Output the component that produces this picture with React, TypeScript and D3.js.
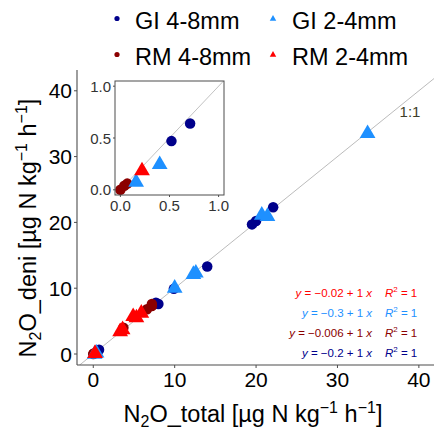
import React from "react";
import * as d3 from "d3";

// Paired measurements: total N2O production (x) vs. denitrification-derived N2O (y)
const giLargeX = [0.52, 0.71, 7.7, 8.0, 9.9, 14.0, 19.5, 20.0, 22.1];
const giLargeY = [0.47, 0.64, 7.8, 7.6, 9.9, 13.3, 19.7, 20.2, 22.3];
const giSmallX = [0.16, 0.4, 10.0, 12.3, 12.6, 20.7, 21.4, 33.7];
const giSmallY = [0.08, 0.25, 10.1, 12.2, 12.4, 21.2, 21.0, 33.6];
const rmLargeX = [0.0, 0.04, 0.07, 3.7, 6.6, 7.2, 7.2];
const rmLargeY = [0.0, 0.04, 0.06, 4.0, 6.8, 7.3, 7.6];
const rmSmallX = [0.22, 3.3, 3.6, 4.9, 5.3, 5.9];
const rmSmallY = [0.19, 3.5, 3.8, 5.8, 5.6, 6.3];

const groupNames = ["GI 4-8mm", "GI 2-4mm", "RM 4-8mm", "RM 2-4mm"];
const groupColors = ["#00008B", "#1E90FF", "#8B0000", "#FF0000"];
const groupShapes = ["circle", "triangle", "circle", "triangle"];

// Fitted lines (y = a + b x) per group, listed in drawing order of the labels
const fitGroups = [3, 1, 2, 0];
const fitIntercepts = ["−0.02", "−0.3", "−0.006", "−0.2"];
const fitSlopes = ["1", "1", "1", "1"];
const fitR2 = ["1", "1", "1", "1"];

const mainTicks = [0, 10, 20, 30, 40];
const insetTicks = [0, 0.5, 1];

const FONT = "'Liberation Sans', Arial, sans-serif";

type Pt = { x: number; y: number };
const zip = (xs: number[], ys: number[]): Pt[] => xs.map((x, i) => ({ x, y: ys[i] }));
const groups: Pt[][] = [
  zip(giLargeX, giLargeY),
  zip(giSmallX, giSmallY),
  zip(rmLargeX, rmLargeY),
  zip(rmSmallX, rmSmallY),
];

const triPath = (cx: number, cy: number, w: number) => {
  const h = w * 0.866;
  return `M${cx},${cy - h * 0.62} L${cx + w / 2},${cy + h * 0.38} L${cx - w / 2},${cy + h * 0.38} Z`;
};

function Marker({ shape, cx, cy, color, size }: { shape: string; cx: number; cy: number; color: string; size: number }) {
  if (shape === "circle") return <circle cx={cx} cy={cy} r={size / 2} fill={color} />;
  return <path d={triPath(cx, cy, size * 1.5)} fill={color} />;
}

export default function App() {
  const W = 434;
  const H = 430;

  // Main panel
  const x = d3.scaleLinear().domain([-2, 41]).range([77, 427]);
  const y = d3.scaleLinear().domain([-1.67, 42.4]).range([365, 75]);

  // Inset panel (zoom on 0..1)
  const ix = d3.scaleLinear().domain([-0.055, 1.055]).range([115, 224]);
  const iy = d3.scaleLinear().domain([-0.05, 1.05]).range([195, 81]);

  const drawOrder = [0, 2, 1, 3];

  const lineMain = d3.line<number>().x((v) => x(v)).y((v) => y(v));
  const lineInset = d3.line<number>().x((v) => ix(v)).y((v) => iy(v));

  return (
    <svg width={W} height={H} style={{ position: "absolute", left: 0, top: 0, background: "#fff" }} fontFamily={FONT}>
      <defs>
        <clipPath id="mainClip">
          <rect x={77} y={70} width={357} height={295} />
        </clipPath>
        <clipPath id="insetClip">
          <rect x={115} y={81} width={109} height={114} />
        </clipPath>
      </defs>

      {/* Legend */}
      {groupNames.map((name, i) => {
        const col = i % 2;
        const row = Math.floor(i / 2);
        const kx = col === 0 ? 117 : 273;
        const tx = col === 0 ? 135 : 292;
        const ky = row === 0 ? 18.5 : 54.5;
        return (
          <g key={name}>
            {groupShapes[i] === "circle" ? (
              <circle cx={kx} cy={ky} r={2.6} fill={groupColors[i]} />
            ) : (
              <path d={triPath(kx, ky, 6.5)} fill={groupColors[i]} />
            )}
            <text x={tx} y={ky + 2.5} fontSize={23.5} dominantBaseline="central" fill="#000">
              {name}
            </text>
          </g>
        );
      })}

      {/* 1:1 reference line */}
      <path d={lineMain([-2, 42]) || ""} stroke="#b3b3b3" strokeWidth={0.9} fill="none" clipPath="url(#mainClip)" />
      <text x={410} y={111} fontSize={15} fill="#3d3d29" textAnchor="middle" dominantBaseline="central">
        1:1
      </text>

      {/* Points */}
      <g clipPath="url(#mainClip)">
        {drawOrder.map((g) =>
          groups[g].map((p, j) => (
            <Marker key={`${g}-${j}`} shape={groupShapes[g]} cx={x(p.x)} cy={y(p.y)} color={groupColors[g]} size={10.5} />
          ))
        )}
      </g>

      {/* Axes */}
      <line x1={77} x2={77} y1={70} y2={365} stroke="#4d4d4d" strokeWidth={1.1} />
      <line x1={77} x2={434} y1={365} y2={365} stroke="#4d4d4d" strokeWidth={1.1} />
      {mainTicks.map((t) => (
        <g key={`xt${t}`}>
          <line x1={x(t)} x2={x(t)} y1={365} y2={368} stroke="#4d4d4d" strokeWidth={1} />
          <text x={x(t)} y={387} fontSize={21} textAnchor="middle" fill="#000">
            {t}
          </text>
        </g>
      ))}
      {mainTicks.map((t) => (
        <g key={`yt${t}`}>
          <line x1={74} x2={77} y1={y(t)} y2={y(t)} stroke="#4d4d4d" strokeWidth={1} />
          <text x={72} y={y(t)} fontSize={21} textAnchor="end" dominantBaseline="central" fill="#000">
            {t}
          </text>
        </g>
      ))}

      {/* Axis titles */}
      <text x={253} y={422} fontSize={23.5} textAnchor="middle" fill="#000">
        N<tspan fontSize={16} dy={5}>2</tspan>
        <tspan dy={-5}>O_total [µg N kg</tspan>
        <tspan fontSize={16} dy={-9}>−1</tspan>
        <tspan dy={9}> h</tspan>
        <tspan fontSize={16} dy={-9}>−1</tspan>
        <tspan dy={9}>]</tspan>
      </text>
      <text transform="translate(36,228) rotate(-90)" fontSize={23.5} textAnchor="middle" fill="#000">
        N<tspan fontSize={16} dy={5}>2</tspan>
        <tspan dy={-5}>O_deni [µg N kg</tspan>
        <tspan fontSize={16} dy={-9}>−1</tspan>
        <tspan dy={9}> h</tspan>
        <tspan fontSize={16} dy={-9}>−1</tspan>
        <tspan dy={9}>]</tspan>
      </text>

      {/* Regression labels */}
      {fitGroups.map((g, i) => {
        const yy = 297 + i * 20;
        return (
          <g key={`fit${i}`} fill={groupColors[g]} fontSize={11.5}>
            <text x={372} y={yy} textAnchor="end">
              <tspan fontStyle="italic">y</tspan>
              {` = ${fitIntercepts[i]} + ${fitSlopes[i]} `}
              <tspan fontStyle="italic">x</tspan>
            </text>
            <text x={385} y={yy}>
              <tspan fontStyle="italic">R</tspan>
              <tspan fontSize={8} dy={-5}>2</tspan>
              <tspan dy={5}>{` = ${fitR2[i]}`}</tspan>
            </text>
          </g>
        );
      })}

      {/* Inset */}
      <rect x={115} y={81} width={109} height={114} fill="#fff" />
      <path d={lineInset([-0.1, 1.1]) || ""} stroke="#b3b3b3" strokeWidth={0.8} fill="none" clipPath="url(#insetClip)" />
      <g clipPath="url(#insetClip)">
        {drawOrder.map((g) =>
          groups[g]
            .filter((p) => p.x <= 1.1 && p.y <= 1.1)
            .map((p, j) => (
              <Marker key={`i${g}-${j}`} shape={groupShapes[g]} cx={ix(p.x)} cy={iy(p.y)} color={groupColors[g]} size={10.5} />
            ))
        )}
      </g>
      <rect x={115} y={81} width={109} height={114} fill="none" stroke="#4d4d4d" strokeWidth={1} />
      {insetTicks.map((t) => (
        <g key={`ixt${t}`}>
          <line x1={ix(t)} x2={ix(t)} y1={195} y2={197} stroke="#4d4d4d" />
          <text x={ix(t)} y={211} fontSize={15} textAnchor="middle" fill="#333">
            {t.toFixed(1)}
          </text>
          <line x1={113} x2={115} y1={iy(t)} y2={iy(t)} stroke="#4d4d4d" />
          <text x={111} y={iy(t)} fontSize={15} textAnchor="end" dominantBaseline="central" fill="#333">
            {t.toFixed(1)}
          </text>
        </g>
      ))}
    </svg>
  );
}
